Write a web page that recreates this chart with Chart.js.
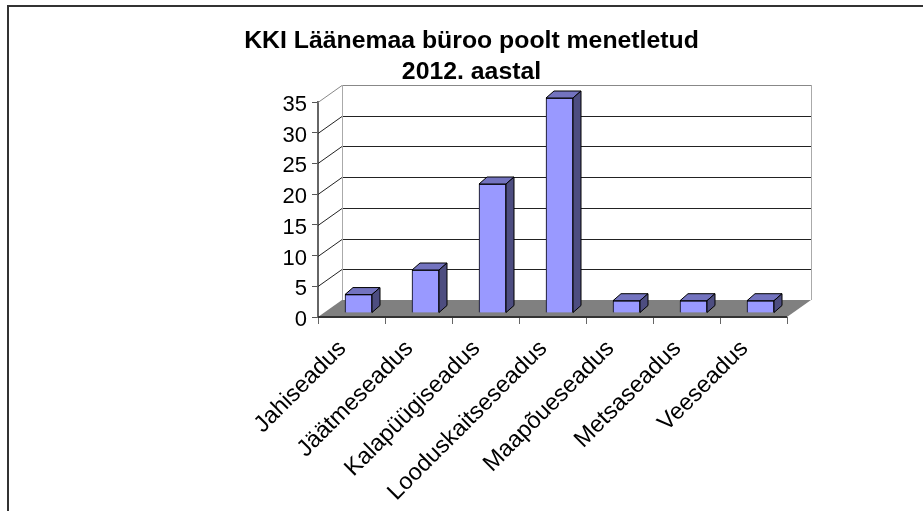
<!DOCTYPE html>
<html><head><meta charset="utf-8">
<style>html,body{margin:0;padding:0;background:#fff}#w{width:923px;height:511px;position:relative}</style>
<script src="https://cdn.jsdelivr.net/npm/chart.js@4"></script>
</head><body><div id="w"><canvas id="c" width="923" height="511"></canvas></div>
<script>
const categories = ["Jahiseadus","Jäätmeseadus","Kalapüügiseadus","Looduskaitseseadus","Maapõueseadus","Metsaseadus","Veeseadus"];
const values = [3,7,21,35,2,2,2];
const titleLines = ["KKI Läänemaa büroo poolt menetletud","2012. aastal"];
const FONT = '"Liberation Sans", Arial, sans-serif';
const WALL_DX = 24, WALL_DY = 17;
const BAR_DX = 7, BAR_DY = 4;
const CAP_DX = 8, CAP_DY = 7;

const scene = {
  id:'scene',
  beforeDraw(chart){
    const {ctx,width,height} = chart;
    ctx.save();
    ctx.fillStyle='#fff'; ctx.fillRect(0,0,width,height);
    ctx.strokeStyle='#333'; ctx.lineWidth=2;
    ctx.beginPath();ctx.moveTo(8,height+2);ctx.lineTo(8,6);ctx.lineTo(width+2,6);ctx.stroke();
    ctx.restore();
  },
  beforeDatasetsDraw(chart){
    const {ctx,chartArea:a,scales:{y}} = chart;
    ctx.save();
    ctx.fillStyle='#808080';
    ctx.beginPath();
    ctx.moveTo(a.left,a.bottom);ctx.lineTo(a.right,a.bottom);
    ctx.lineTo(a.right+WALL_DX,a.bottom-WALL_DY);ctx.lineTo(a.left+WALL_DX,a.bottom-WALL_DY);
    ctx.closePath();ctx.fill();
    ctx.lineWidth=1;
    y.ticks.forEach(t=>{
      const py=Math.round(y.getPixelForValue(t.value))+0.5;
      if(t.value>0){
        const c=t.value===35?'#888':'#222';
        ctx.strokeStyle=c;
        ctx.beginPath();ctx.moveTo(a.left+WALL_DX,py-WALL_DY);ctx.lineTo(a.right+WALL_DX,py-WALL_DY);ctx.stroke();
        ctx.beginPath();ctx.moveTo(a.left,py);ctx.lineTo(a.left+WALL_DX,py-WALL_DY);ctx.stroke();
      }
    });
    ctx.strokeStyle='#aaa';ctx.lineWidth=1;
    ctx.beginPath();
    ctx.moveTo(a.left+WALL_DX+.5,a.bottom-WALL_DY);ctx.lineTo(a.left+WALL_DX+.5,a.top-WALL_DY);
    ctx.moveTo(a.right+WALL_DX+.5,a.bottom-WALL_DY);ctx.lineTo(a.right+WALL_DX+.5,a.top-WALL_DY);
    ctx.stroke();
    ctx.strokeStyle='#333';ctx.lineWidth=2;
    ctx.beginPath();ctx.moveTo(a.left,a.bottom);ctx.lineTo(a.right,a.bottom);ctx.stroke();
    ctx.restore();
  },
  beforeDatasetDraw(chart){
    chart.ctx.save();
    chart.ctx.translate(BAR_DX,-BAR_DY);
  },
  afterDatasetDraw(chart,args){
    const ctx=chart.ctx;
    const poly=(pts,fill)=>{
      ctx.beginPath();pts.forEach((p,i)=>i?ctx.lineTo(p[0],p[1]):ctx.moveTo(p[0],p[1]));
      ctx.closePath();ctx.fillStyle=fill;ctx.fill();ctx.strokeStyle='#000';ctx.lineWidth=1;ctx.stroke();
    };
    args.meta.data.forEach(b=>{
      const l=b.x-b.width/2,r=b.x+b.width/2,t=b.y,base=b.base;
      poly([[l,t],[r,t],[r+CAP_DX,t-CAP_DY],[l+CAP_DX,t-CAP_DY]],'#7373BF');
      poly([[r,t],[r+CAP_DX,t-CAP_DY],[r+CAP_DX,base-CAP_DY],[r,base]],'#4D4D80');
    });
    ctx.restore();
  }
};

new Chart(document.getElementById('c'),{
  type:'bar',
  data:{labels:categories,datasets:[{data:values,backgroundColor:'#9999FF',borderColor:'#000',borderWidth:1,barThickness:27,clip:false}]},
  plugins:[scene],
  options:{
    responsive:false,animation:false,
    layout:{padding:{left:156,right:136,top:26,bottom:0}},
    plugins:{
      legend:{display:false},tooltip:{enabled:false},
      title:{display:true,text:titleLines,color:'#000',font:{family:FONT,size:24.8,weight:'bold',lineHeight:1.25},padding:{top:0,bottom:14}}
    },
    scales:{
      x:{
        offset:true,
        afterFit(s){s.height=194;},
        border:{display:false},
        grid:{drawOnChartArea:false,offset:true,color:'#666',tickLength:7,tickWidth:1},
        ticks:{color:'#000',font:{family:FONT,size:23.5},minRotation:45,maxRotation:45,autoSkip:false,labelOffset:-9,padding:11}
      },
      y:{
        min:0,max:35,
        afterFit(s){s.width=162;},
        border:{display:true,color:'#666',width:2},
        grid:{drawOnChartArea:false,color:'#555',tickLength:6},
        ticks:{stepSize:5,color:'#000',font:{family:FONT,size:22},padding:5,labelOffset:3}
      }
    }
  }
});
</script></body></html>
